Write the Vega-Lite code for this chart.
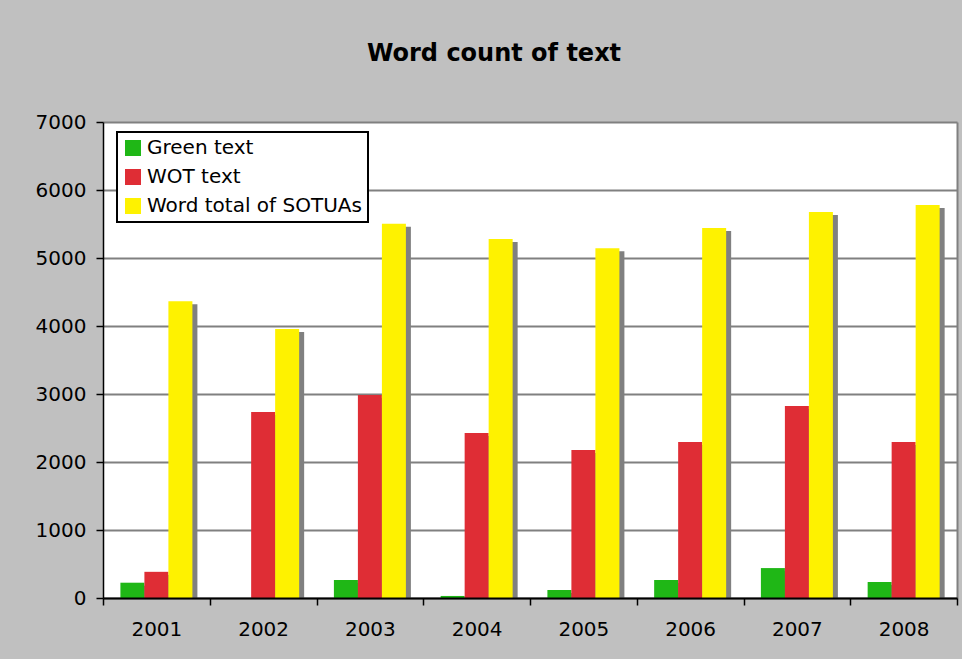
{
  "$schema": "https://vega.github.io/schema/vega-lite/v6.json",
  "width": 854,
  "height": 476,
  "autosize": {"type": "none"},
  "padding": {"left": 103, "top": 122, "right": 5, "bottom": 61},
  "background": "#c0c0c0",
  "title": {
    "text": "Word count of text",
    "font": "DejaVu Sans",
    "fontSize": 24,
    "fontWeight": "bold",
    "color": "#000000",
    "anchor": "middle",
    "frame": "group",
    "dx": -36,
    "offset": 46
  },
  "data": {
    "values": [
      {"year": "2001", "series": "Green text", "value": 225},
      {"year": "2001", "series": "WOT text", "value": 385},
      {"year": "2001", "series": "Word total of SOTUAs", "value": 4365},
      {"year": "2002", "series": "Green text", "value": 0},
      {"year": "2002", "series": "WOT text", "value": 2735},
      {"year": "2002", "series": "Word total of SOTUAs", "value": 3955},
      {"year": "2003", "series": "Green text", "value": 265},
      {"year": "2003", "series": "WOT text", "value": 2985},
      {"year": "2003", "series": "Word total of SOTUAs", "value": 5505},
      {"year": "2004", "series": "Green text", "value": 30},
      {"year": "2004", "series": "WOT text", "value": 2425},
      {"year": "2004", "series": "Word total of SOTUAs", "value": 5280},
      {"year": "2005", "series": "Green text", "value": 118},
      {"year": "2005", "series": "WOT text", "value": 2175},
      {"year": "2005", "series": "Word total of SOTUAs", "value": 5145},
      {"year": "2006", "series": "Green text", "value": 265},
      {"year": "2006", "series": "WOT text", "value": 2295},
      {"year": "2006", "series": "Word total of SOTUAs", "value": 5440},
      {"year": "2007", "series": "Green text", "value": 440},
      {"year": "2007", "series": "WOT text", "value": 2825},
      {"year": "2007", "series": "Word total of SOTUAs", "value": 5675},
      {"year": "2008", "series": "Green text", "value": 235},
      {"year": "2008", "series": "WOT text", "value": 2295},
      {"year": "2008", "series": "Word total of SOTUAs", "value": 5780}
    ]
  },
  "encoding": {
    "x": {
      "field": "year",
      "type": "nominal",
      "scale": {"paddingInner": 0, "paddingOuter": 0},
      "axis": {
        "title": null,
        "grid": false,
        "domainColor": "#000000",
        "domainWidth": 2,
        "tickColor": "#000000",
        "tickWidth": 1.5,
        "tickSize": 7,
        "tickBand": "extent",
        "labelFont": "DejaVu Sans",
        "labelFontSize": 20,
        "labelColor": "#000000",
        "labelPadding": 14,
        "labelAngle": 0,
        "zindex": 1
      }
    }
  },
  "layer": [
    {
      "mark": {"type": "bar", "color": "#808080", "yOffset": 3, "clip": true},
      "encoding": {
        "xOffset": {
          "field": "series",
          "type": "nominal",
          "scale": {"domain": ["Green text", "WOT text", "Word total of SOTUAs"], "range": [22.4, 94.4], "paddingInner": 0, "paddingOuter": 0}
        },
        "y": {
          "field": "value",
          "type": "quantitative",
          "scale": {"domain": [0, 7000], "nice": false},
          "axis": {
            "title": null,
            "orient": "left",
            "values": [0, 1000, 2000, 3000, 4000, 5000, 6000, 7000],
            "format": "d",
            "domainColor": "#000000",
            "domainWidth": 1.5,
            "tickColor": "#000000",
            "tickWidth": 1.5,
            "tickSize": 7,
            "labelPadding": 10,
            "labelFont": "DejaVu Sans",
            "labelFontSize": 20,
            "labelColor": "#000000",
            "grid": true,
            "gridColor": "#808080",
            "gridWidth": 2,
            "gridOpacity": 1,
            "zindex": 0
          }
        }
      }
    },
    {
      "mark": {"type": "bar"},
      "encoding": {
        "xOffset": {
          "field": "series",
          "type": "nominal",
          "scale": {"domain": ["Green text", "WOT text", "Word total of SOTUAs"], "range": [17.4, 89.4], "paddingInner": 0, "paddingOuter": 0}
        },
        "y": {
          "field": "value",
          "type": "quantitative",
          "axis": {
            "orient": "right",
            "title": null,
            "labels": false,
            "ticks": false,
            "grid": false,
            "domainColor": "#808080",
            "domainWidth": 2
          }
        },
        "color": {
          "field": "series",
          "type": "nominal",
          "scale": {
            "domain": ["Green text", "WOT text", "Word total of SOTUAs"],
            "range": ["#1FB716", "#DF2D35", "#FEF200"]
          },
          "legend": {
            "title": null,
            "orient": "none",
            "legendX": 14,
            "legendY": 10,
            "fillColor": "#ffffff",
            "strokeColor": "#000000",
            "padding": 6,
            "symbolType": "square",
            "symbolSize": 256,
            "symbolStrokeWidth": 0,
            "symbolOpacity": 1,
            "labelFont": "DejaVu Sans",
            "labelFontSize": 20,
            "labelColor": "#000000",
            "labelOffset": 4,
            "labelLimit": 0,
            "rowPadding": 9
          }
        }
      }
    }
  ],
  "resolve": {"scale": {"xOffset": "independent"}, "axis": {"y": "independent"}},
  "config": {
    "view": {"stroke": null, "fill": "#ffffff"},
    "legend": {"strokeWidth": 2}
  }
}
